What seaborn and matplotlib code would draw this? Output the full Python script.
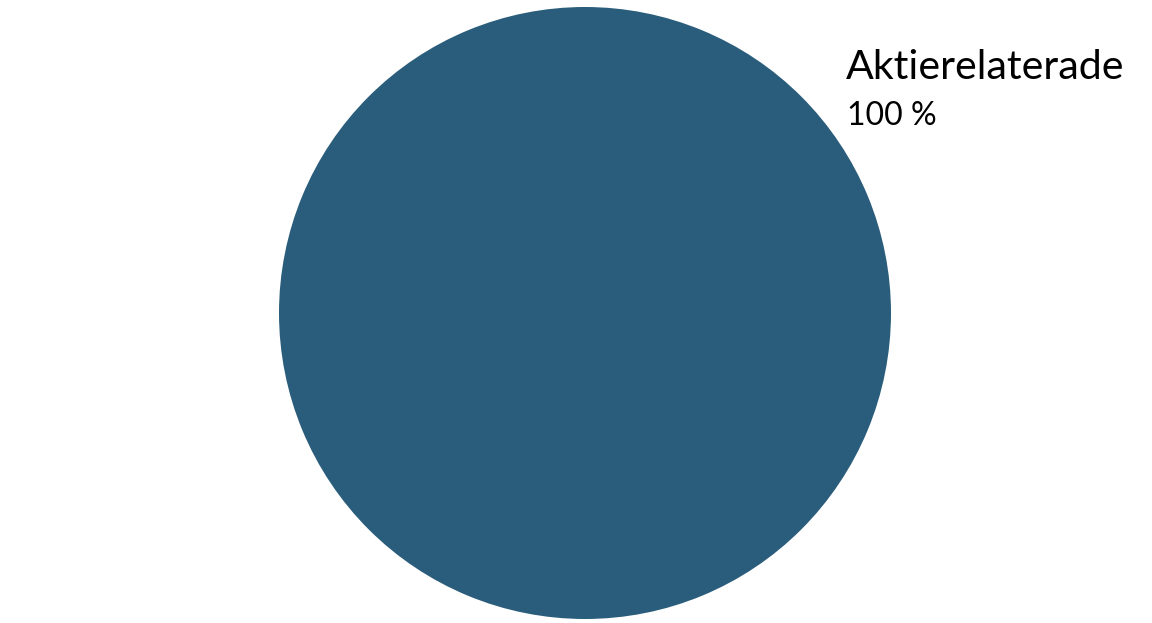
import matplotlib
matplotlib.use("Agg")
import matplotlib.pyplot as plt
import seaborn as sns

# data
categories = ["Aktierelaterade"]
shares = [100]
colors = ["#2a5d7b"]

sns.set_theme(style="white")
plt.rcParams['font.family'] = ['Lato', 'DejaVu Sans']

W, H = 1152, 623
fig = plt.figure(figsize=(W / 100, H / 100), dpi=100)
fig.patch.set_facecolor("white")

# pie centre and radius in pixels
cx, cy, r = 585, 313, 306
ax = fig.add_axes([(cx - r) / W, (H - cy - r) / H, 2 * r / W, 2 * r / H])
ax.pie(shares, colors=colors, startangle=90, counterclock=False,
       wedgeprops=dict(linewidth=0))
ax.set_xlim(-1, 1)
ax.set_ylim(-1, 1)
ax.set_aspect("equal")
ax.axis("off")

# label to the upper right
fig.text(846 / W, 1 - 79 / H, categories[0], fontsize=29.6, color="black",
         ha="left", va="baseline")
fig.text(847 / W, 1 - 125 / H, f"{shares[0]} %", fontsize=23, color="black",
         ha="left", va="baseline")

fig.savefig("out.png", dpi=100, facecolor="white")
